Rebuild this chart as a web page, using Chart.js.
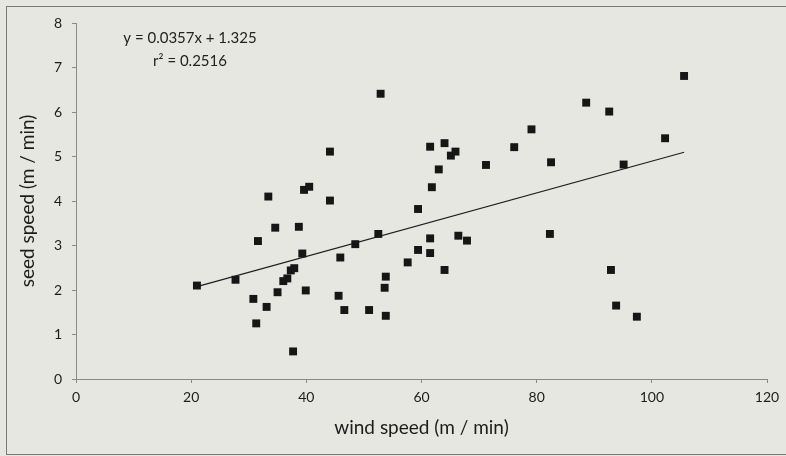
<!DOCTYPE html>
<html>
<head>
<meta charset="utf-8">
<script src="https://cdn.jsdelivr.net/npm/chart.js@4/dist/chart.umd.min.js"></script>
<style>
  html, body { margin: 0; padding: 0; background: #e7e7e1; }
  #wrap { width: 786px; height: 456px; position: relative; }
</style>
</head>
<body>
<div id="wrap"><canvas id="seedChart"></canvas></div>
<script>
// wind speed (m / min) vs seed speed (m / min)
const windSpeed = [21.0, 27.7, 30.8, 31.3, 31.6, 33.1, 33.4, 34.6, 35.0, 36.0,
                   36.7, 37.3, 37.7, 37.9, 38.7, 39.3, 39.6, 39.9, 40.5, 44.1,
                   44.1, 45.6, 45.9, 46.6, 48.5, 50.9, 52.5, 52.9, 53.6, 53.8,
                   53.8, 57.6, 59.4, 59.4, 61.5, 61.5, 61.5, 61.8, 63.0, 64.0,
                   64.0, 65.1, 65.9, 66.4, 67.9, 71.2, 76.1, 79.1, 82.3, 82.5,
                   88.6, 92.6, 92.9, 93.8, 95.1, 97.4, 102.3, 105.6];
const seedSpeed = [2.10, 2.23, 1.80, 1.25, 3.10, 1.62, 4.10, 3.40, 1.95, 2.20,
                   2.26, 2.44, 0.62, 2.49, 3.42, 2.82, 4.25, 1.99, 4.32, 5.11,
                   4.01, 1.87, 2.73, 1.55, 3.03, 1.55, 3.26, 6.41, 2.05, 2.30,
                   1.42, 2.62, 2.90, 3.82, 5.22, 3.16, 2.83, 4.31, 4.71, 5.30,
                   2.45, 5.02, 5.11, 3.22, 3.11, 4.81, 5.21, 5.61, 3.26, 4.87,
                   6.21, 6.01, 2.45, 1.65, 4.82, 1.40, 5.41, 6.81];

// linear fit shown on the chart
const slope = 0.0357;
const intercept = 1.325;
const fitLabels = ['y = 0.0357x + 1.325', 'r\u00B2 = 0.2516'];

const xTicks = [0, 20, 40, 60, 80, 100, 120];
const yTicks = [0, 1, 2, 3, 4, 5, 6, 7, 8];

const FONT = 'Lato, "Liberation Sans", sans-serif';
const axisGray = '#8a8a8a';

const points = windSpeed.map((x, i) => ({ x: x, y: seedSpeed[i] }));
const xMin = Math.min(...windSpeed);
const xMax = Math.max(...windSpeed);
const fitLine = [
    { x: xMin, y: slope * xMin + intercept },
    { x: xMax, y: slope * xMax + intercept }
];

// frame around the whole chart + the fit equation text
const decorations = {
    id: 'decorations',
    beforeDraw(chart) {
        const ctx = chart.ctx;
        ctx.save();
        ctx.fillStyle = '#e7e7e1';
        ctx.fillRect(0, 0, chart.width, chart.height);
        ctx.strokeStyle = '#7a7a7a';
        ctx.lineWidth = 1;
        ctx.strokeRect(6.5, 6.5, 800, 448);
        ctx.restore();
    },
    afterDraw(chart) {
        const ctx = chart.ctx;
        const xs = chart.scales.x;
        const ys = chart.scales.y;
        ctx.save();
        ctx.fillStyle = '#222';
        ctx.font = '15px ' + FONT;
        ctx.textAlign = 'center';
        ctx.textBaseline = 'middle';
        const cx = xs.getPixelForValue(19.8);
        ctx.fillText(fitLabels[0], cx, ys.getPixelForValue(7.65));
        ctx.fillText(fitLabels[1], cx, ys.getPixelForValue(7.15));
        ctx.restore();
    }
};

new Chart(document.getElementById('seedChart'), {
    data: {
        datasets: [
            {
                type: 'scatter',
                data: points,
                pointStyle: 'rect',
                pointRadius: 5.6,
                pointHoverRadius: 5.6,
                backgroundColor: '#161616',
                borderColor: '#161616',
                borderWidth: 0
            },
            {
                type: 'line',
                data: fitLine,
                borderColor: '#1e1e1e',
                borderWidth: 1.2,
                pointRadius: 0,
                fill: false
            }
        ]
    },
    options: {
        responsive: true,
        maintainAspectRatio: false,
        animation: false,
        layout: { padding: { left: 0, right: 19, top: 23, bottom: 0 } },
        plugins: {
            legend: { display: false },
            tooltip: { enabled: false }
        },
        scales: {
            x: {
                type: 'linear',
                min: 0,
                max: 120,
                afterBuildTicks: s => { s.ticks = xTicks.map(v => ({ value: v })); },
                afterFit: s => { s.height = 77; },
                border: { display: true, color: axisGray, width: 1 },
                grid: { drawOnChartArea: false, drawTicks: true, tickLength: 4, color: axisGray },
                ticks: { color: '#1c1c1c', font: { family: FONT, size: 14 }, padding: 6, maxRotation: 0 },
                title: {
                    display: true,
                    text: 'wind speed (m / min)',
                    color: '#1c1c1c',
                    font: { family: FONT, size: 19 },
                    padding: { top: 0, bottom: 17 }
                }
            },
            y: {
                type: 'linear',
                min: 0,
                max: 8,
                afterBuildTicks: s => { s.ticks = yTicks.map(v => ({ value: v })); },
                afterFit: s => { s.width = 76; },
                border: { display: true, color: axisGray, width: 1 },
                grid: { drawOnChartArea: false, drawTicks: true, tickLength: 4, color: axisGray },
                ticks: { color: '#1c1c1c', font: { family: FONT, size: 14 }, padding: 10 },
                title: {
                    display: true,
                    text: 'seed speed (m / min)',
                    color: '#1c1c1c',
                    font: { family: FONT, size: 19 },
                    padding: { top: 16, bottom: 0 }
                }
            }
        }
    },
    plugins: [decorations]
});
</script>
</body>
</html>
